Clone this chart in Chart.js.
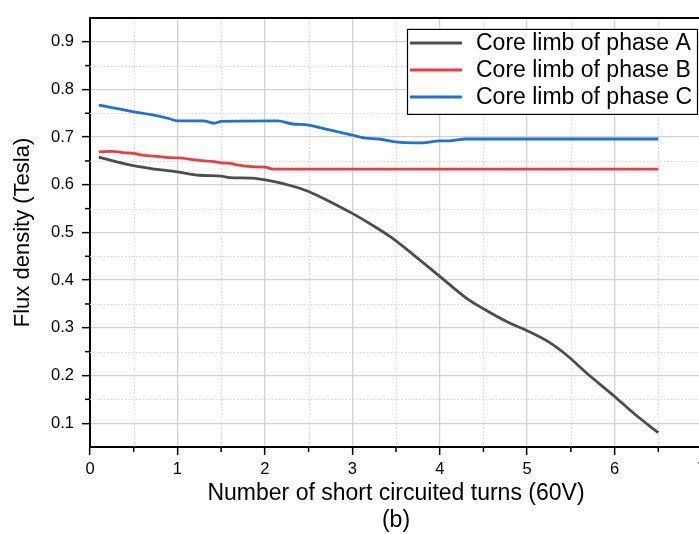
<!DOCTYPE html>
<html>
<head>
<meta charset="utf-8">
<script src="https://cdn.jsdelivr.net/npm/chart.js@4/dist/chart.umd.min.js"></script>
<style>
  html, body { margin: 0; padding: 0; background: #fff; overflow: hidden; }
  canvas { display: block; }
</style>
</head>
<body>
<canvas id="fluxChart" width="716" height="534" style="width:716px;height:534px"></canvas>
<script>
// phase A
const turnsA = [0.1, 0.4, 0.7, 1.0, 1.25, 1.5, 1.6, 1.85, 2.1, 2.3, 2.5, 2.75, 3.0, 3.25, 3.45, 3.7, 4.0, 4.3, 4.5, 4.8, 5.0, 5.25, 5.45, 5.7, 6.0, 6.25, 6.5];
const fluxA = [0.658, 0.644, 0.634, 0.627, 0.620, 0.618, 0.615, 0.614, 0.607, 0.598, 0.586, 0.564, 0.540, 0.513, 0.489, 0.453, 0.408, 0.363, 0.340, 0.310, 0.294, 0.270, 0.243, 0.202, 0.156, 0.116, 0.080];

// phase B
const turnsB = [0.1, 0.25, 0.4, 0.5, 0.6, 0.8, 0.9, 1.05, 1.2, 1.3, 1.4, 1.5, 1.6, 1.7, 1.85, 2.0, 2.1, 6.5];
const fluxB = [0.669, 0.670, 0.667, 0.666, 0.662, 0.659, 0.657, 0.656, 0.652, 0.650, 0.649, 0.646, 0.645, 0.641, 0.638, 0.637, 0.633, 0.633];

// phase C
const turnsC = [0.1, 0.25, 0.5, 0.7, 0.9, 1.0, 1.3, 1.35, 1.42, 1.5, 2.15, 2.3, 2.5, 2.65, 3.0, 3.15, 3.3, 3.55, 3.8, 4.0, 4.1, 4.3, 6.5];
const fluxC = [0.767, 0.762, 0.753, 0.747, 0.739, 0.734, 0.734, 0.732, 0.729, 0.733, 0.734, 0.728, 0.725, 0.719, 0.704, 0.698, 0.696, 0.689, 0.688, 0.692, 0.692, 0.696, 0.696];

const seriesNames = ["Core limb of phase A", "Core limb of phase B", "Core limb of phase C"];
const xTicks = [0, 1, 2, 3, 4, 5, 6, 7];
const yTicks = [0.1, 0.2, 0.3, 0.4, 0.5, 0.6, 0.7, 0.8, 0.9];
const xMinor = [0.5, 1.5, 2.5, 3.5, 4.5, 5.5, 6.5];
const yMinor = [0.15, 0.25, 0.35, 0.45, 0.55, 0.65, 0.75, 0.85];
const xTitle = ["Number of short circuited turns (60V)", "(b)"];
const yTitle = "Flux density (Tesla)";

const FONT = "'Liberation Sans', Arial, sans-serif";

function toPoints(xs, ys) {
    return xs.map((x, i) => ({ x: x, y: ys[i] }));
}

// dotted minor grid, short minor ticks, top frame line
const framePlugin = {
    id: "frame",
    beforeDatasetsDraw(chart) {
        const { ctx, chartArea: a, scales: { x, y } } = chart;
        ctx.save();
        ctx.strokeStyle = "#d4d4d4";
        ctx.lineWidth = 1;
        ctx.setLineDash([1.5, 2]);
        xMinor.forEach(v => {
            const px = Math.round(x.getPixelForValue(v)) + 0.5;
            ctx.beginPath(); ctx.moveTo(px, a.top); ctx.lineTo(px, a.bottom); ctx.stroke();
        });
        yMinor.forEach(v => {
            const py = Math.round(y.getPixelForValue(v)) + 0.5;
            ctx.beginPath(); ctx.moveTo(a.left, py); ctx.lineTo(a.right, py); ctx.stroke();
        });
        ctx.setLineDash([]);
        ctx.strokeStyle = "#000";
        ctx.lineWidth = 1.5;
        xMinor.forEach(v => {
            const px = x.getPixelForValue(v);
            ctx.beginPath(); ctx.moveTo(px, a.bottom); ctx.lineTo(px, a.bottom + 5); ctx.stroke();
        });
        yMinor.forEach(v => {
            const py = y.getPixelForValue(v);
            ctx.beginPath(); ctx.moveTo(a.left - 5, py); ctx.lineTo(a.left, py); ctx.stroke();
        });
        ctx.lineWidth = 2;
        ctx.beginPath(); ctx.moveTo(a.left, a.top); ctx.lineTo(a.right, a.top); ctx.lineTo(a.right, a.bottom); ctx.stroke();
        ctx.restore();
    }
};

// boxed legend inside the plot, top right
const legendBox = {
    id: "legendBox",
    afterDraw(chart) {
        const { ctx, chartArea: a } = chart;
        const w = 290, h = 85;
        const left = a.right - 5 - w, top = a.top + 11;
        ctx.save();
        ctx.fillStyle = "#fff";
        ctx.fillRect(left, top, w, h);
        ctx.strokeStyle = "#000";
        ctx.lineWidth = 1.2;
        ctx.strokeRect(left + 0.5, top + 0.5, w, h);
        ctx.font = "23px " + FONT;
        ctx.textBaseline = "middle";
        ctx.fillStyle = "#000";
        chart.data.datasets.forEach((ds, i) => {
            const cy = top + 14 + i * 27;
            ctx.strokeStyle = ds.borderColor;
            ctx.lineWidth = 3;
            ctx.beginPath(); ctx.moveTo(left + 3, cy); ctx.lineTo(left + 55, cy); ctx.stroke();
            ctx.fillText(ds.label, left + 69, cy + 1);
        });
        ctx.restore();
    }
};

const colors = ["#4d4d4d", "#ef3b3f", "#1f6fde"];

const ctx = document.getElementById("fluxChart").getContext("2d");

new Chart(ctx, {
    type: "line",
    data: {
        datasets: [
            { label: seriesNames[0], data: toPoints(turnsA, fluxA), borderColor: colors[0] },
            { label: seriesNames[1], data: toPoints(turnsB, fluxB), borderColor: colors[1] },
            { label: seriesNames[2], data: toPoints(turnsC, fluxC), borderColor: colors[2] }
        ]
    },
    options: {
        responsive: false,
        animation: false,
        devicePixelRatio: 1,
        layout: { padding: { top: 12, right: 14, left: 0, bottom: 0 } },
        elements: {
            point: { radius: 0 },
            line: { borderWidth: 2.8, cubicInterpolationMode: "monotone", fill: false }
        },
        plugins: {
            legend: { display: false },
            tooltip: { enabled: false }
        },
        scales: {
            x: {
                type: "linear",
                min: 0,
                max: 7,
                afterBuildTicks: (scale) => { scale.ticks = xTicks.map(v => ({ value: v })); },
                afterFit: (scale) => { scale.height = 87; },
                ticks: {
                    color: "#000",
                    padding: 5,
                    maxRotation: 0,
                    autoSkip: false,
                    font: { family: FONT, size: 16.5 },
                    callback: (v) => String(v)
                },
                grid: { color: "#d2d2d2", lineWidth: 1.3, tickColor: "#000", tickLength: 8, tickWidth: 1.5 },
                border: { color: "#000", width: 2 },
                title: {
                    display: true,
                    text: xTitle,
                    color: "#000",
                    padding: { top: 0, bottom: 0 },
                    font: { family: FONT, size: 23, lineHeight: 1.17 }
                }
            },
            y: {
                min: 0.05,
                max: 0.95,
                afterBuildTicks: (scale) => { scale.ticks = yTicks.map(v => ({ value: v })); },
                afterFit: (scale) => { scale.width = 90; },
                ticks: {
                    color: "#000",
                    padding: 8,
                    autoSkip: false,
                    font: { family: FONT, size: 16.5 },
                    callback: (v) => Number(v).toFixed(1)
                },
                grid: { color: "#d2d2d2", lineWidth: 1.3, tickColor: "#000", tickLength: 8, tickWidth: 1.5 },
                border: { color: "#000", width: 2 },
                title: {
                    display: true,
                    text: yTitle,
                    color: "#000",
                    padding: { top: 10, bottom: 0 },
                    font: { family: FONT, size: 22 }
                }
            }
        }
    },
    plugins: [framePlugin, legendBox]
});
</script>
</body>
</html>
